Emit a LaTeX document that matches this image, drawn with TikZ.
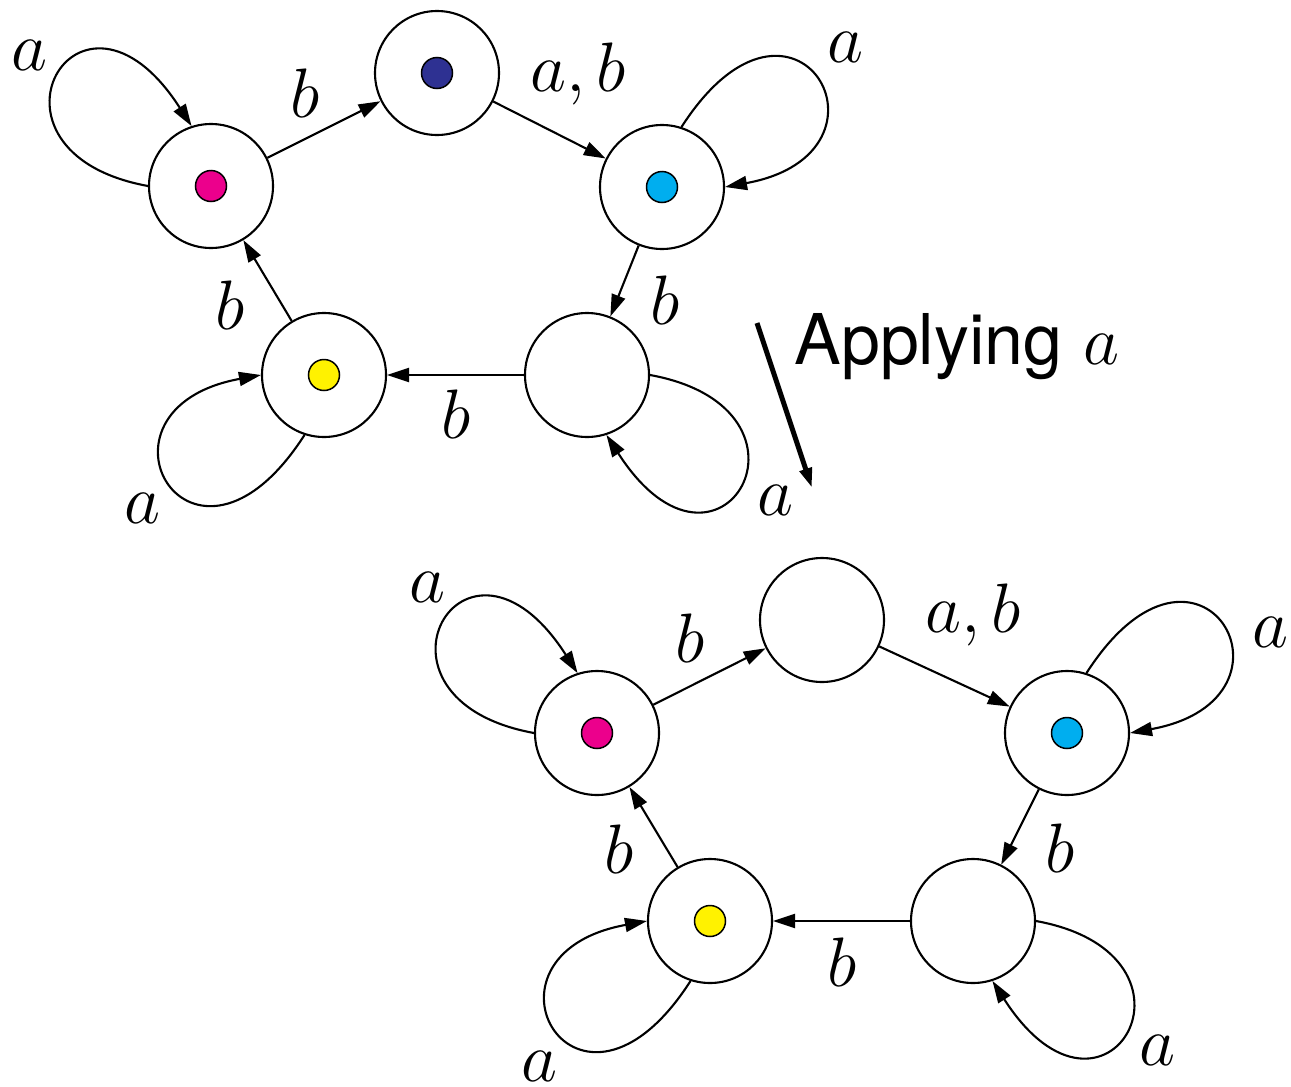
\documentclass[tikz,border=0pt]{standalone}
\usepackage{fix-cm}
\usepackage{fontspec}
\newfontfamily\herosfont{TeX Gyre Heros}
\usetikzlibrary{arrows.meta}
\definecolor{dotpink}{HTML}{EC008C}
\definecolor{dotcyan}{HTML}{00AEEF}
\definecolor{dotblue}{HTML}{2E3192}
\definecolor{dotyellow}{HTML}{FFF200}
\begin{document}
\begin{tikzpicture}[x=0.5pt,y=-0.5pt,
  state/.style={circle,draw,line width=1.05pt,minimum size=62pt,inner sep=0pt},
  tok/.style={circle,draw,line width=0.75pt,minimum size=15.5pt,inner sep=0pt},
  edge/.style={draw,line width=1.05pt,-{Triangle[length=11pt,width=7pt]}},
  lbl/.style={inner sep=0pt,font=\fontsize{35}{42}\selectfont},
  applyarrow/.style={draw,line width=2.5pt,-{Triangle[length=10pt,width=6pt]}}]
\useasboundingbox (0,0) rectangle (1291,1087);

% ---------- top automaton ----------
\node[state] (P) at (211,186) {};
\node[state] (T) at (437,73) {};
\node[state] (C) at (662,187) {};
\node[state] (R) at (587,375) {};
\node[state] (Y) at (324,375) {};
\node[tok,fill=dotpink] (tP) at (P.center) {};
\node[tok,fill=dotblue] (tT) at (T.center) {};
\node[tok,fill=dotcyan] (tC) at (C.center) {};
\node[tok,fill=dotyellow] (tY) at (Y.center) {};

\draw[edge] (P) -- (T);
\draw[edge] (T) -- (C);
\draw[edge] (C) -- (R);
\draw[edge] (R) -- (Y);
\draw[edge] (Y) -- (P);
\draw[edge] (P.180) .. controls +(-186,-34) and +(-113,-176) .. (P.108);
\draw[edge] (C.72) .. controls +(113,-176) and +(186,-34) .. (C.0);
\draw[edge] (R.0) .. controls +(186,34) and +(113,176) .. (R.288);
\draw[edge] (Y.252) .. controls +(-113,176) and +(-186,34) .. (Y.180);

\node[lbl] (l1) at (29,55) {$a$};
\node[lbl] (l2) at (305,93) {$b$};
\node[lbl] (l3) at (578,74) {$a,b$};
\node[lbl] (l4) at (845,47) {$a$};
\node[lbl] (l5) at (665,300) {$b$};
\node[lbl] (l6) at (456,414) {$b$};
\node[lbl] (l7) at (230,305) {$b$};
\node[lbl] (l8) at (142,508) {$a$};
\node[lbl] (l9) at (775,500) {$a$};

% ---------- applying arrow ----------
\coordinate (AS) at (757,323);
\coordinate (AE) at (812,488);
\draw[applyarrow] (AS) -- (AE);
\node[lbl,anchor=base west] (apply) at (794,364) {{\herosfont Applying} $a$};

% ---------- bottom automaton ----------
\node[state] (P2) at (597,733) {};
\node[state] (T2) at (822,620) {};
\node[state] (C2) at (1067,733) {};
\node[state] (R2) at (973,921) {};
\node[state] (Y2) at (710,921) {};
\node[tok,fill=dotpink] (tP2) at (P2.center) {};
\node[tok,fill=dotcyan] (tC2) at (C2.center) {};
\node[tok,fill=dotyellow] (tY2) at (Y2.center) {};

\draw[edge] (P2) -- (T2);
\draw[edge] (T2) -- (C2);
\draw[edge] (C2) -- (R2);
\draw[edge] (R2) -- (Y2);
\draw[edge] (Y2) -- (P2);
\draw[edge] (P2.180) .. controls +(-186,-34) and +(-113,-176) .. (P2.108);
\draw[edge] (C2.72) .. controls +(113,-176) and +(186,-34) .. (C2.0);
\draw[edge] (R2.0) .. controls +(186,34) and +(113,176) .. (R2.288);
\draw[edge] (Y2.252) .. controls +(-113,176) and +(-186,34) .. (Y2.180);

\node[lbl] (m1) at (427,587) {$a$};
\node[lbl] (m2) at (690,638) {$b$};
\node[lbl] (m3) at (973,615) {$a,b$};
\node[lbl] (m4) at (1270,632) {$a$};
\node[lbl] (m5) at (1060,848) {$b$};
\node[lbl] (m6) at (842,962) {$b$};
\node[lbl] (m7) at (619,849) {$b$};
\node[lbl] (m8) at (539,1066) {$a$};
\node[lbl] (m9) at (1157,1050) {$a$};
\end{tikzpicture}
\end{document}
